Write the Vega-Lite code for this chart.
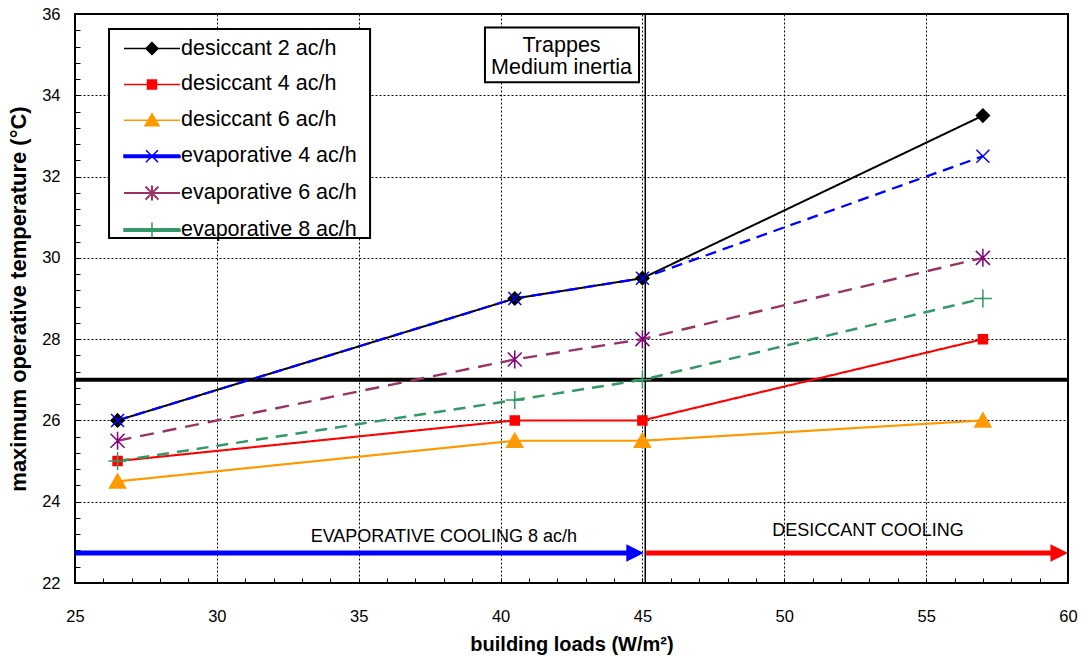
{
  "$schema": "https://vega.github.io/schema/vega-lite/v6.json",
  "width": 993,
  "height": 569,
  "autosize": "none",
  "padding": {"left": 75, "top": 14, "right": 17, "bottom": 75},
  "background": "#ffffff",
  "config": {
    "font": "Liberation Sans",
    "view": {"stroke": "#000000", "strokeWidth": 2},
    "axis": {
      "domain": false,
      "ticks": true, "tickColor": "#000000", "tickWidth": 1, "tickSize": 5,
      "gridColor": "#000000", "gridDash": [2, 2], "gridWidth": 1,
      "labelColor": "#000000", "labelFontSize": 16.5, "labelFont": "Liberation Sans", "labelOverlap": false,
      "titleColor": "#000000", "titleFont": "Liberation Sans", "titleFontWeight": "bold"
    }
  },
  "datasets": {
    "series": [
      {"series": "desiccant 2 ac/h", "load": 26.5, "temp": 26},
      {"series": "desiccant 2 ac/h", "load": 40.5, "temp": 29},
      {"series": "desiccant 2 ac/h", "load": 45, "temp": 29.5},
      {"series": "desiccant 2 ac/h", "load": 57, "temp": 33.5},
      {"series": "desiccant 4 ac/h", "load": 26.5, "temp": 25},
      {"series": "desiccant 4 ac/h", "load": 40.5, "temp": 26},
      {"series": "desiccant 4 ac/h", "load": 45, "temp": 26},
      {"series": "desiccant 4 ac/h", "load": 57, "temp": 28},
      {"series": "desiccant 6 ac/h", "load": 26.5, "temp": 24.5},
      {"series": "desiccant 6 ac/h", "load": 40.5, "temp": 25.5},
      {"series": "desiccant 6 ac/h", "load": 45, "temp": 25.5},
      {"series": "desiccant 6 ac/h", "load": 57, "temp": 26},
      {"series": "evaporative 4 ac/h", "load": 26.5, "temp": 26},
      {"series": "evaporative 4 ac/h", "load": 40.5, "temp": 29},
      {"series": "evaporative 4 ac/h", "load": 45, "temp": 29.5},
      {"series": "evaporative 4 ac/h", "load": 57, "temp": 32.5},
      {"series": "evaporative 6 ac/h", "load": 26.5, "temp": 25.5},
      {"series": "evaporative 6 ac/h", "load": 40.5, "temp": 27.5},
      {"series": "evaporative 6 ac/h", "load": 45, "temp": 28},
      {"series": "evaporative 6 ac/h", "load": 57, "temp": 30},
      {"series": "evaporative 8 ac/h", "load": 26.5, "temp": 25},
      {"series": "evaporative 8 ac/h", "load": 40.5, "temp": 26.5},
      {"series": "evaporative 8 ac/h", "load": 45, "temp": 27},
      {"series": "evaporative 8 ac/h", "load": 57, "temp": 29}
    ],
    "note": [{"n": 1}]
  },
  "layer": [
    {
      "data": {"name": "note"},
      "mark": {"type": "rule", "color": "#000000", "strokeWidth": 4},
      "encoding": {"y": {"datum": 27}}
    },
    {
      "data": {"name": "note"},
      "mark": {"type": "rule", "color": "#000000", "strokeWidth": 1.5},
      "encoding": {"x": {"datum": 45.1}}
    },
    {
      "data": {"name": "note"},
      "mark": {"type": "rect", "fill": "#ffffff", "stroke": "#000000", "strokeWidth": 2},
      "encoding": {"x": {"datum": 26.2}, "x2": {"datum": 35.4}, "y": {"datum": 30.49}, "y2": {"datum": 35.63}}
    },
    {
      "data": {"name": "note"},
      "mark": {"type": "rect", "fill": "#ffffff", "stroke": "#000000", "strokeWidth": 2},
      "encoding": {"x": {"datum": 39.45}, "x2": {"datum": 44.88}, "y": {"datum": 34.32}, "y2": {"datum": 35.67}}
    },
    {
      "data": {"name": "note"},
      "mark": {"type": "text", "fontSize": 21.5, "color": "#000000", "align": "center", "baseline": "middle", "text": "Trappes"},
      "encoding": {"x": {"datum": 42.15}, "y": {"datum": 35.22}}
    },
    {
      "data": {"name": "note"},
      "mark": {"type": "text", "fontSize": 21.5, "color": "#000000", "align": "center", "baseline": "middle", "text": "Medium inertia"},
      "encoding": {"x": {"datum": 42.15}, "y": {"datum": 34.67}}
    },
    {
      "data": {"name": "note"},
      "mark": {"type": "rule", "color": "#0000ff", "strokeWidth": 5, "strokeCap": "butt"},
      "encoding": {"x": {"datum": 25}, "x2": {"datum": 44.8}, "y": {"datum": 22.74}}
    },
    {
      "data": {"name": "note"},
      "mark": {"type": "point", "shape": "M-1,-1L1,0L-1,1Z", "size": 306, "filled": true, "color": "#0000ff", "opacity": 1, "strokeWidth": 0},
      "encoding": {"x": {"datum": 44.74}, "y": {"datum": 22.74}}
    },
    {
      "data": {"name": "note"},
      "mark": {"type": "rule", "color": "#ff0000", "strokeWidth": 5, "strokeCap": "butt"},
      "encoding": {"x": {"datum": 45.13}, "x2": {"datum": 59.7}, "y": {"datum": 22.74}}
    },
    {
      "data": {"name": "note"},
      "mark": {"type": "point", "shape": "M-1,-1L1,0L-1,1Z", "size": 306, "filled": true, "color": "#ff0000", "opacity": 1, "strokeWidth": 0},
      "encoding": {"x": {"datum": 59.69}, "y": {"datum": 22.74}}
    },
    {
      "data": {"name": "note"},
      "mark": {"type": "text", "fontSize": 18, "color": "#000000", "align": "center", "baseline": "middle", "text": "EVAPORATIVE COOLING 8 ac/h"},
      "encoding": {"x": {"datum": 38.0}, "y": {"datum": 23.12}}
    },
    {
      "data": {"name": "note"},
      "mark": {"type": "text", "fontSize": 18, "color": "#000000", "align": "center", "baseline": "middle", "text": "DESICCANT COOLING"},
      "encoding": {"x": {"datum": 52.95}, "y": {"datum": 23.27}}
    },
    {
      "data": {"name": "series"},
      "mark": {"type": "line", "interpolate": "linear", "strokeCap": "butt"},
      "encoding": {
        "x": {
          "field": "load", "type": "quantitative",
          "scale": {"domain": [25, 60], "nice": false, "zero": false},
          "axis": {
            "title": "building loads (W/m²)", "titleFontSize": 20, "titlePadding": 10,
            "values": [25,26,27,28,29,30,31,32,33,34,35,36,37,38,39,40,41,42,43,44,45,46,47,48,49,50,51,52,53,54,55,56,57,58,59,60],
            "tickCount": 1000, "format": "d",
            "labelExpr": "datum.value % 5 === 0 ? datum.label : ''",
            "offset": -5, "labelPadding": 25, "labelFlush": false, "labelOverlap": false,
            "grid": true,
            "gridOpacity": {"condition": {"test": "datum.value % 5 === 0", "value": 1}, "value": 0}
          }
        },
        "y": {
          "field": "temp", "type": "quantitative",
          "scale": {"domain": [22, 36], "nice": false, "zero": false},
          "axis": {
            "title": "maximum operative temperature (°C)", "titleFontSize": 22, "titlePadding": 11,
            "values": [22,22.4,22.8,23.2,23.6,24,24.4,24.8,25.2,25.6,26,26.4,26.8,27.2,27.6,28,28.4,28.8,29.2,29.6,30,30.4,30.8,31.2,31.6,32,32.4,32.8,33.2,33.6,34,34.4,34.8,35.2,35.6,36],
            "tickCount": 1000,
            "labelExpr": "datum.value % 2 === 0 ? format(datum.value, 'd') : ''",
            "offset": -5, "labelPadding": 15, "labelFlush": false, "labelOverlap": false,
            "grid": true,
            "gridOpacity": {"condition": {"test": "datum.value % 2 === 0", "value": 1}, "value": 0}
          }
        },
        "color": {
          "field": "series", "type": "nominal",
          "scale": {
            "domain": ["desiccant 2 ac/h", "desiccant 4 ac/h", "desiccant 6 ac/h", "evaporative 4 ac/h", "evaporative 6 ac/h", "evaporative 8 ac/h"],
            "range": ["#000000", "#ff0000", "#ff9900", "#0000ff", "#993366", "#339966"]
          },
          "legend": {
            "title": null, "orient": "none", "legendX": 103, "legendY": 31.5,
            "padding": 3,
            "labelFontSize": 21.5, "labelFont": "Liberation Sans", "labelColor": "#000000", "labelLimit": 400,
            "symbolSize": 3136, "symbolOffset": 0, "labelOffset": 3, "rowPadding": 13.9,
            "symbolOpacity": 1, "symbolFillOpacity": 1,
            "symbolType": {"expr": "['M-2.036,0H-0.036M-1.036,-0.214L-0.822,0L-1.036,0.214L-1.25,0Z','M-2.036,0H-0.036M-1.196,-0.16H-0.876V0.16H-1.196Z','M-2.036,0H-0.036M-1.036,-0.232L-0.786,0.196H-1.286Z','M-2.036,-0.043H-0.036V0.043H-2.036ZM-1.25,-0.214L-0.822,0.214M-1.25,0.214L-0.822,-0.214','M-2.036,0H-0.036M-1.268,-0.232L-0.804,0.232M-1.268,0.232L-0.804,-0.232M-1.036,-0.268V0.268','M-2.036,-0.043H-0.036V0.043H-2.036ZM-1.036,-0.268V0.268'][indexof(['desiccant 2 ac/h','desiccant 4 ac/h','desiccant 6 ac/h','evaporative 4 ac/h','evaporative 6 ac/h','evaporative 8 ac/h'], datum.value)]"},
            "symbolFillColor": {"expr": "scale('color', datum.value)"},
            "symbolStrokeWidth": {"expr": "[1.5,1.5,1.5,1.5,2,1.5][indexof(['desiccant 2 ac/h','desiccant 4 ac/h','desiccant 6 ac/h','evaporative 4 ac/h','evaporative 6 ac/h','evaporative 8 ac/h'], datum.value)]"},
            "symbolDash": [1, 0]
          }
        },
        "strokeDash": {
          "field": "series", "type": "nominal",
          "scale": {
            "domain": ["evaporative 8 ac/h", "evaporative 6 ac/h", "evaporative 4 ac/h", "desiccant 6 ac/h", "desiccant 4 ac/h", "desiccant 2 ac/h"],
            "range": [[12, 8], [14, 9], [11, 7], [1, 0], [1, 0], [1, 0]]
          },
          "legend": null
        },
        "strokeWidth": {
          "field": "series", "type": "nominal",
          "scale": {
            "domain": ["evaporative 8 ac/h", "evaporative 6 ac/h", "evaporative 4 ac/h", "desiccant 6 ac/h", "desiccant 4 ac/h", "desiccant 2 ac/h"],
            "range": [2.5, 2, 2.5, 1.5, 1.5, 1.5]
          },
          "legend": null
        }
      }
    },
    {
      "data": {"name": "series"},
      "mark": {"type": "point", "size": 100, "opacity": 1, "fillOpacity": 1, "strokeWidth": 1.5},
      "encoding": {
        "x": {"field": "load", "type": "quantitative"},
        "y": {"field": "temp", "type": "quantitative"},
        "shape": {
          "field": "series", "type": "nominal",
          "scale": {
            "domain": ["evaporative 8 ac/h", "evaporative 6 ac/h", "evaporative 4 ac/h", "desiccant 6 ac/h", "desiccant 4 ac/h", "desiccant 2 ac/h"],
            "range": ["M-1.8,0H1.8M0,-1.8V1.8", "M-1.4,-1.4L1.4,1.4M-1.4,1.4L1.4,-1.4M0,-1.8V1.8", "M-1.3,-1.3L1.3,1.3M-1.3,1.3L1.3,-1.3", "M0,-1.5L1.6,1.3H-1.6Z", "M-0.9,-0.9H0.9V0.9H-0.9Z", "M0,-1.3L1.3,0L0,1.3L-1.3,0Z"]
          },
          "legend": null
        },
        "fill": {
          "field": "series", "type": "nominal",
          "scale": {
            "domain": ["evaporative 8 ac/h", "evaporative 6 ac/h", "evaporative 4 ac/h", "desiccant 6 ac/h", "desiccant 4 ac/h", "desiccant 2 ac/h"],
            "range": ["transparent", "transparent", "transparent", "#ff9900", "#ff0000", "#000000"]
          },
          "legend": null
        },
        "stroke": {
          "field": "series", "type": "nominal",
          "scale": {
            "domain": ["evaporative 8 ac/h", "evaporative 6 ac/h", "evaporative 4 ac/h", "desiccant 6 ac/h", "desiccant 4 ac/h", "desiccant 2 ac/h"],
            "range": ["#339966", "#800080", "#0000ff", "#ff9900", "#ff0000", "#000000"]
          },
          "legend": null
        }
      }
    }
  ]
}
